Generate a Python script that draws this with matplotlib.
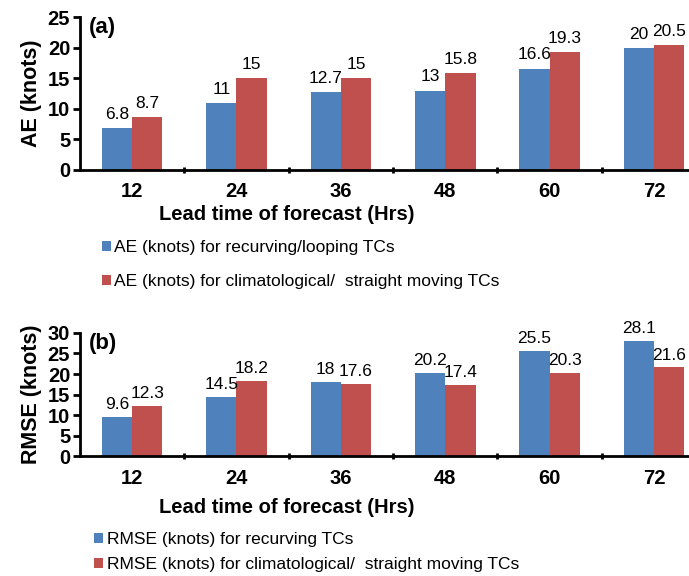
import matplotlib.pyplot as plt
import numpy as np
from matplotlib import font_manager

plt.rcParams['font.family'] = ['Liberation Sans', 'DejaVu Sans']

# forecast lead times (hrs)
lead_times = ['12', '24', '36', '48', '60', '72']

# panel (a) absolute error
ae_recurving = [6.8, 11, 12.7, 13, 16.6, 20]
ae_straight = [8.7, 15, 15, 15.8, 19.3, 20.5]

# panel (b) rmse
rmse_recurving = [9.6, 14.5, 18, 20.2, 25.5, 28.1]
rmse_straight = [12.3, 18.2, 17.6, 17.4, 20.3, 21.6]

blue = '#4F81BD'
red = '#C0504D'

# narrow font for legends if it exists
names_installed = {f.name for f in font_manager.fontManager.ttflist}
narrow = 'Liberation Sans Narrow' in names_installed
leg_font = {'family': ['Liberation Sans Narrow', 'Liberation Sans'],
            'size': 13.5 if narrow else 12.5}

fig = plt.figure(figsize=(6.89, 5.76), dpi=100)


def draw_panel(ax, v1, v2, ymax, ylabel, tag, names, xl_y, leg_x, leg_y, leg_sp):
    x = np.arange(len(lead_times))
    w = 0.29
    b1 = ax.bar(x - w / 2, v1, w, color=blue, label=names[0])
    b2 = ax.bar(x + w / 2, v2, w, color=red, label=names[1])
    for bars, vals in ((b1, v1), (b2, v2)):
        for b, v in zip(bars, vals):
            ax.text(b.get_x() + b.get_width() / 2, v + ymax * 0.04, f'{v:g}',
                    ha='center', va='bottom', fontsize=12.5)
    ax.set_xlim(-0.5, 5.5)
    ax.set_ylim(0, ymax)
    ax.set_yticks(np.arange(0, ymax + 1, 5))
    ax.set_xticks(x)
    ax.set_xticklabels(lead_times, fontsize=14.5, fontweight='bold')
    ax.set_xticks(np.arange(0.5, 5, 1), minor=True)
    ax.tick_params(axis='x', which='major', length=0, pad=9)
    ax.tick_params(axis='x', which='minor', length=5, width=2, direction='inout')
    ax.tick_params(axis='y', length=5, width=2, direction='out', pad=2)
    for lbl in ax.get_yticklabels():
        lbl.set_fontsize(14.5)
        lbl.set_fontweight('bold')
    for s in ('top', 'right'):
        ax.spines[s].set_visible(False)
    for s in ('left', 'bottom'):
        ax.spines[s].set_linewidth(2)
    ax.set_ylabel(ylabel, fontsize=15.5, fontweight='bold', labelpad=4)
    ax.set_xlabel('Lead time of forecast (Hrs)', fontsize=14.5, fontweight='bold')
    ax.xaxis.set_label_coords(0.33, xl_y)
    ax.xaxis.label.set_va('center')
    ax.text(0.015, 1.0, tag, transform=ax.transAxes, fontsize=16, fontweight='bold',
            va='top', ha='left')
    fig.legend(handles=[b1, b2], loc='upper left', bbox_to_anchor=(leg_x, leg_y),
               frameon=False, prop=leg_font, handlelength=0.5, handleheight=0.5,
               handletextpad=0.2, labelspacing=leg_sp, borderaxespad=0)


ax1 = fig.add_axes([0.116, 0.705, 0.909, 0.265])
draw_panel(ax1, ae_recurving, ae_straight, 25, 'AE (knots)', '(a)',
           ['AE (knots) for recurving/looping TCs',
            'AE (knots) for climatological/  straight moving TCs'],
           -0.295, 0.138, 0.595, 1.1)

ax2 = fig.add_axes([0.116, 0.208, 0.909, 0.214])
draw_panel(ax2, rmse_recurving, rmse_straight, 30, 'RMSE (knots)', '(b)',
           ['RMSE (knots) for recurving TCs',
            'RMSE (knots) for climatological/  straight moving TCs'],
           -0.42, 0.127, 0.088, 0.55)

fig.savefig('out.png', dpi=100)
